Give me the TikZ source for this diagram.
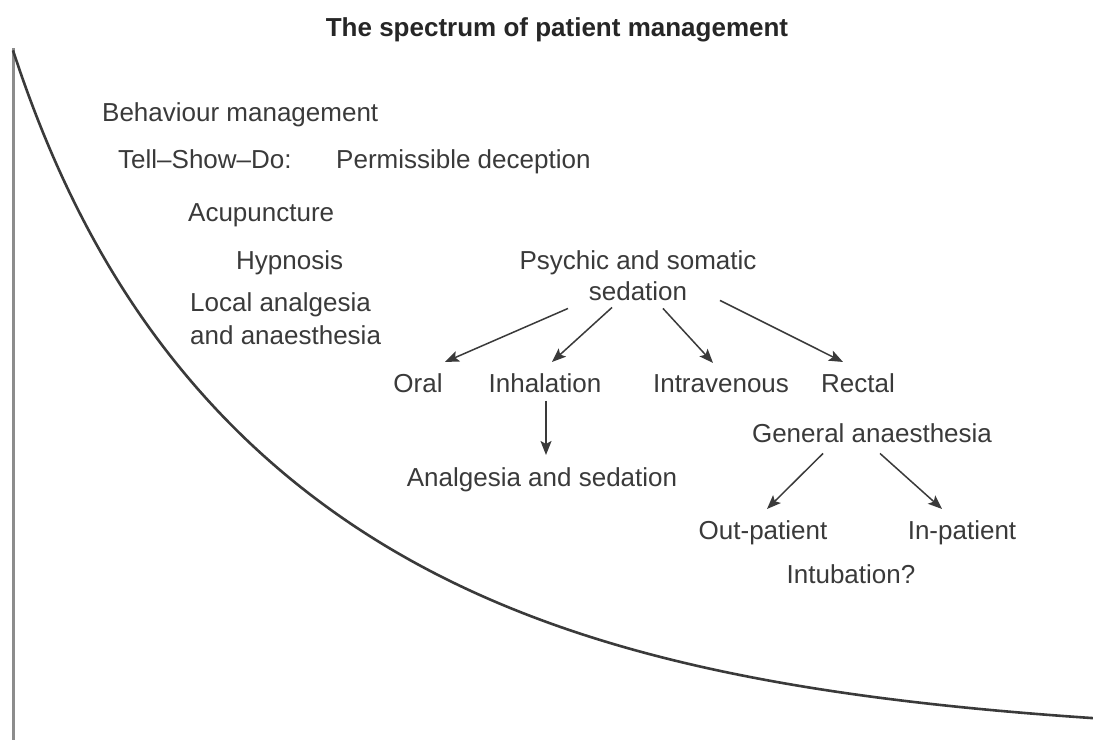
\documentclass[tikz,border=0pt]{standalone}
\usepackage{fontspec}
\setmainfont{Liberation Sans}
\usetikzlibrary{arrows.meta}
\definecolor{ink}{HTML}{3A3A3A}
\definecolor{titleink}{HTML}{262626}
\definecolor{axisgray}{HTML}{8C8C8C}
\begin{document}
\begin{tikzpicture}[x=1pt,y=-1pt,
  lbl/.style={inner sep=0pt, anchor=base, text=ink, font=\fontsize{26}{32}\selectfont},
  lblw/.style={lbl, anchor=base west},
  arr/.style={draw=ink, line width=1.5pt, -{Stealth[length=14pt,width=11pt,inset=3pt]}},
  curveline/.style={draw=ink, line width=2.6pt},
  axisline/.style={draw=axisgray, line width=2.5pt}]
\useasboundingbox (0,0) rectangle (1093,740);
\fill[white] (0,0) rectangle (1093,740);

% axis and curve
\coordinate (axtop) at (13.5,48);
\coordinate (axbot) at (13.5,740);
\draw[axisline] (axtop) -- (axbot);
\draw[curveline] plot[domain=13:1093, samples=150, smooth] (\x, {740-exp(6.455-0.00308*\x+0.14*exp(-\x/90))});

% title
\node[lbl, text=titleink, font=\fontsize{26}{32}\selectfont\bfseries] (title) at (557,36) {The spectrum of patient management};

% left column
\node[lblw] (beh) at (102,121.5) {Behaviour management};
\node[lblw] (tsd) at (118,168.5) {Tell–Show–Do:};
\node[lblw] (perm) at (336,168.5) {Permissible deception};
\node[lblw] (acu) at (188,221) {Acupuncture};
\node[lblw] (hyp) at (236,269) {Hypnosis};
\node[lblw, align=left, font=\fontsize{26}{33}\selectfont] (loc) at (190,344.5) {Local analgesia\\and anaesthesia};

% sedation tree
\node[lbl, align=center, font=\fontsize{26}{31}\selectfont] (psy) at (638,300.5) {Psychic and somatic\\sedation};
\node[lbl] (oral) at (418,392.5) {Oral};
\node[lbl] (inh) at (545,392.5) {Inhalation};
\node[lbl] (iv) at (721,392.5) {Intravenous};
\node[lbl] (rect) at (858,392.5) {Rectal};
\node[lbl] (ans) at (542,486.5) {Analgesia and sedation};

% general anaesthesia tree
\node[lbl] (ga) at (872,442.5) {General anaesthesia};
\node[lbl] (out) at (763,539.5) {Out-patient};
\node[lbl] (inp) at (962,539.5) {In-patient};
\node[lbl] (intub) at (851,583.5) {Intubation?};

% arrows
\draw[arr] ([shift={(-70,7.5)}]psy.south) -- ([shift={(27,-11.5)}]oral.north);
\draw[arr] ([shift={(-26,6.5)}]psy.south) -- ([shift={(7,-11.5)}]inh.north);
\draw[arr] ([shift={(25,7.5)}]psy.south) -- ([shift={(-8,-11.5)}]iv.north);
\draw[arr] ([shift={(82,-0.5)}]psy.south) -- ([shift={(-15,-11.5)}]rect.north);
\draw[arr] ([shift={(1,8)}]inh.south) -- ([shift={(4,-12.5)}]ans.north);
\draw[arr] ([shift={(-49,10.5)}]ga.south) -- ([shift={(4,-11.5)}]out.north);
\draw[arr] ([shift={(8,10.5)}]ga.south) -- ([shift={(-20,-11.5)}]inp.north);
\end{tikzpicture}
\end{document}
